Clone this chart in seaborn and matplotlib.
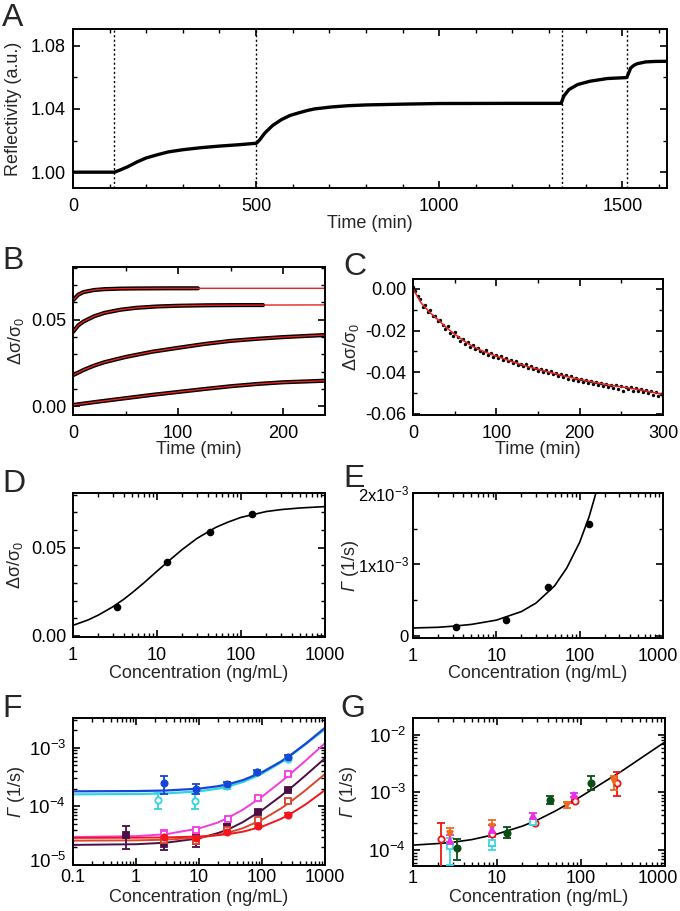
import numpy as np
import pandas as pd
import matplotlib
matplotlib.use("Agg")
import matplotlib.pyplot as plt
import matplotlib.transforms as mtransforms
import seaborn as sns
from matplotlib.ticker import MultipleLocator, LogLocator, FixedLocator, FixedFormatter, NullFormatter, FormatStrFormatter

# ---------------- data ----------------
# A: reflectivity trace
a_time = [0, 113, 130, 150, 175, 200, 230, 260, 300, 350, 400, 450, 501,
          510, 524, 545, 569, 592, 615, 640, 660, 705, 750, 800, 900, 1000, 1200, 1333,
          1340, 1354, 1378, 1412, 1459, 1512,
          1517, 1523, 1532, 1541, 1564, 1590, 1622]
a_refl = [1.000, 1.000, 1.0015, 1.0035, 1.0065, 1.0090, 1.0110, 1.0128, 1.0142, 1.0155, 1.0165, 1.0173, 1.0183,
          1.0205, 1.0248, 1.0295, 1.0332, 1.0358, 1.0374, 1.0390, 1.0400, 1.0412, 1.0420, 1.0425, 1.0430, 1.0434, 1.0435, 1.0435,
          1.0480, 1.0522, 1.0554, 1.0575, 1.0592, 1.0598,
          1.0625, 1.0659, 1.0676, 1.0686, 1.0697, 1.0700, 1.0701]
a_events = [113, 501, 1335, 1513]

# B: four binding curves (data) and their fits
b1_t = [0, 5, 10, 20, 30, 45, 60, 90, 119]
b1_v = [0.0613, 0.0645, 0.0660, 0.0672, 0.0677, 0.0680, 0.0681, 0.0682, 0.0682]
b1_fit_t = [0, 5, 10, 20, 30, 45, 60, 90, 120, 240]
b1_fit_v = [0.0613, 0.0645, 0.0660, 0.0672, 0.0677, 0.0680, 0.0681, 0.0682, 0.0682, 0.0682]
b2_t = [0, 5, 10, 20, 30, 45, 60, 80, 100, 130, 160, 181]
b2_v = [0.0430, 0.0468, 0.0490, 0.0520, 0.0540, 0.0558, 0.0569, 0.0577, 0.0581, 0.0584, 0.0585, 0.0585]
b2_fit_t = [0, 5, 10, 20, 30, 45, 60, 80, 100, 130, 160, 240]
b2_fit_v = [0.0430, 0.0468, 0.0490, 0.0520, 0.0540, 0.0558, 0.0569, 0.0577, 0.0581, 0.0584, 0.0585, 0.0586]
b3_t = [0, 10, 20, 30, 50, 75, 100, 125, 150, 175, 200, 240]
b3_v = [0.0180, 0.0210, 0.0235, 0.0255, 0.0285, 0.0315, 0.0338, 0.0360, 0.0378, 0.0390, 0.0400, 0.0412]
b4_t = [0, 25, 50, 75, 100, 125, 150, 175, 200, 240]
b4_v = [0.0008, 0.0028, 0.0047, 0.0066, 0.0083, 0.0100, 0.0116, 0.0129, 0.0139, 0.0148]

# C: dissociation data (every 3 min) and fit
c_vals = [0.0010, -0.0012, -0.0035, -0.0050, -0.0085, -0.0078, -0.0110, -0.0102, -0.0130, -0.0128,
          -0.0155, -0.0150, -0.0172, -0.0190, -0.0178, -0.0212, -0.0225, -0.0208, -0.0232, -0.0250,
          -0.0238, -0.0262, -0.0255, -0.0280, -0.0270, -0.0290, -0.0284, -0.0298, -0.0305, -0.0292,
          -0.0315, -0.0308, -0.0325, -0.0318, -0.0332, -0.0322, -0.0340, -0.0331, -0.0348, -0.0340,
          -0.0356, -0.0345, -0.0365, -0.0358, -0.0370, -0.0362, -0.0380, -0.0372, -0.0385, -0.0378,
          -0.0392, -0.0383, -0.0398, -0.0390, -0.0405, -0.0395, -0.0410, -0.0402, -0.0418, -0.0408,
          -0.0422, -0.0412, -0.0430, -0.0420, -0.0438, -0.0427, -0.0440, -0.0432, -0.0448, -0.0436,
          -0.0450, -0.0442, -0.0455, -0.0446, -0.0462, -0.0450, -0.0466, -0.0455, -0.0470, -0.0459,
          -0.0475, -0.0463, -0.0478, -0.0468, -0.0490, -0.0472, -0.0482, -0.0470, -0.0488, -0.0476,
          -0.0490, -0.0480, -0.0495, -0.0485, -0.0500, -0.0490, -0.0508, -0.0496, -0.0512, -0.0502,
          -0.0515]
c_fit_t = [0, 10, 20, 30, 40, 50, 60, 70, 80, 90, 100, 110, 120, 130, 140, 150, 160, 170, 180, 190,
           200, 210, 220, 230, 240, 250, 260, 270, 280, 290, 300]
c_fit_v = [0.0, -0.0068, -0.0112, -0.0148, -0.0185, -0.0217, -0.0246, -0.0272, -0.0292, -0.0308,
           -0.0322, -0.0336, -0.0350, -0.0363, -0.0375, -0.0385, -0.0396, -0.0406, -0.0416, -0.0425,
           -0.0434, -0.0442, -0.0450, -0.0457, -0.0464, -0.0470, -0.0476, -0.0482, -0.0490, -0.0498, -0.0506]

# D: equilibrium response vs concentration
d_conc = [3.37, 13.3, 42.7, 134]
d_resp = [0.0166, 0.0420, 0.0589, 0.0689]
d_fit_c = [1, 1.5, 2, 3, 4, 5, 7, 10, 15, 20, 30, 50, 70, 100, 200, 300, 500, 1000]
d_fit_v = [0.0060, 0.0090, 0.0118, 0.0166, 0.0207, 0.0243, 0.0301, 0.0367, 0.0440, 0.0490, 0.0553, 0.0615, 0.0645, 0.0672, 0.0705, 0.0716, 0.0725, 0.0733]

# E: observed rate vs concentration (linear axis)
e_conc = [3.3, 13, 42, 130]
e_rate = [0.13e-3, 0.22e-3, 0.69e-3, 1.56e-3]
e_fit_c = [1, 2, 3, 5, 10, 20, 30, 50, 70, 100, 130, 165]
e_fit_v = [0.11e-3, 0.12e-3, 0.135e-3, 0.16e-3, 0.22e-3, 0.34e-3, 0.46e-3, 0.70e-3, 0.95e-3, 1.31e-3, 1.67e-3, 2.09e-3]

# F: rates of several series with fits
f_fit_c = [0.1, 1, 3, 10, 20, 30, 50, 100, 200, 300, 500, 1000]
f_blue_fit = [1.80e-4, 1.82e-4, 1.86e-4, 2.0e-4, 2.2e-4, 2.4e-4, 2.8e-4, 3.8e-4, 5.8e-4, 7.8e-4, 1.18e-3, 2.18e-3]
f_cyan_fit = [1.60e-4, 1.62e-4, 1.66e-4, 1.8e-4, 2.0e-4, 2.2e-4, 2.6e-4, 3.6e-4, 5.6e-4, 7.6e-4, 1.16e-3, 2.06e-3]
f_mag_fit = [3.0e-5, 3.1e-5, 3.35e-5, 4.2e-5, 5.3e-5, 6.5e-5, 8.8e-5, 1.46e-4, 2.62e-4, 3.78e-4, 6.1e-4, 1.19e-3]
f_pur_fit = [2.2e-5, 2.26e-5, 2.4e-5, 2.84e-5, 3.5e-5, 4.1e-5, 5.4e-5, 8.6e-5, 1.5e-4, 2.14e-4, 3.42e-4, 6.6e-4]
f_brk_fit = [2.6e-5, 2.63e-5, 2.7e-5, 2.93e-5, 3.26e-5, 3.6e-5, 4.25e-5, 5.9e-5, 9.2e-5, 1.25e-4, 1.91e-4, 3.56e-4]
f_red_fit = [2.9e-5, 2.92e-5, 2.95e-5, 3.06e-5, 3.22e-5, 3.38e-5, 3.7e-5, 4.5e-5, 6.1e-5, 7.7e-5, 1.09e-4, 1.89e-4]

f_blue_c = [2.8, 9, 27.5, 82, 255]
f_blue_g = [2.45e-4, 2.0e-4, 2.4e-4, 3.9e-4, 7.0e-4]
f_blue_lo = [1.6e-4, 1.6e-4, 2.2e-4, 3.6e-4, 6.5e-4]
f_blue_hi = [3.3e-4, 2.4e-4, 2.6e-4, 4.1e-4, 7.4e-4]
f_cyan_c = [2.2, 8.7, 27.5, 82, 255]
f_cyan_g = [1.28e-4, 1.23e-4, 2.2e-4, 3.8e-4, 6.5e-4]
f_cyan_lo = [0.9e-4, 0.9e-4, 2.0e-4, 3.6e-4, 6.0e-4]
f_cyan_hi = [1.7e-4, 1.6e-4, 2.4e-4, 4.0e-4, 6.9e-4]
f_mag_c = [2.8, 9, 28.5, 85, 255]
f_mag_g = [3.4e-5, 3.9e-5, 6.2e-5, 1.4e-4, 3.6e-4]
f_mag_lo = [2.9e-5, 3.5e-5, 5.7e-5, 1.3e-4, 3.4e-4]
f_mag_hi = [3.9e-5, 4.3e-5, 6.7e-5, 1.5e-4, 3.8e-4]
f_pur_c = [0.69, 2.8, 9, 27.5, 85, 255]
f_pur_g = [3.2e-5, 2.3e-5, 2.6e-5, 4.5e-5, 8.1e-5, 1.9e-4]
f_pur_lo = [1.9e-5, 1.8e-5, 2.0e-5, 4.0e-5, 7.6e-5, 1.8e-4]
f_pur_hi = [4.6e-5, 2.9e-5, 3.3e-5, 5.0e-5, 8.6e-5, 2.0e-4]
f_brk_c = [2.8, 9, 28, 85, 255]
f_brk_g = [2.7e-5, 2.6e-5, 4.0e-5, 5.8e-5, 1.23e-4]
f_brk_lo = [2.5e-5, 2.4e-5, 3.7e-5, 5.4e-5, 1.15e-4]
f_brk_hi = [2.9e-5, 2.8e-5, 4.3e-5, 6.2e-5, 1.31e-4]
f_red_c = [2.8, 9, 27.5, 85, 255]
f_red_g = [3.0e-5, 2.9e-5, 3.6e-5, 4.6e-5, 7.2e-5]
f_red_lo = [2.8e-5, 2.7e-5, 3.4e-5, 4.3e-5, 6.8e-5]
f_red_hi = [3.2e-5, 3.1e-5, 3.8e-5, 4.9e-5, 7.6e-5]

# G: pooled rates and global fit
g_fit_c = [1, 2, 3, 5, 10, 20, 30, 50, 100, 200, 300, 500, 1000]
g_fit_v = [1.22e-4, 1.30e-4, 1.37e-4, 1.52e-4, 1.9e-4, 2.6e-4, 3.3e-4, 4.8e-4, 8.5e-4, 1.6e-3, 2.3e-3, 3.8e-3, 7.5e-3]
g_red_c = [2.15, 8.65, 28.3, 85.5, 266]
g_red_g = [1.55e-4, 1.87e-4, 2.9e-4, 7.0e-4, 1.48e-3]
g_red_lo = [3e-5, 1.2e-4, 2.7e-4, 6.6e-4, 8.5e-4]
g_red_hi = [3.0e-4, 2.7e-4, 3.1e-4, 7.4e-4, 2.3e-3]
g_ora_c = [2.76, 8.65, 67.6, 247]
g_ora_g = [1.9e-4, 2.55e-4, 6.1e-4, 1.6e-3]
g_ora_lo = [1.4e-4, 1.9e-4, 5.3e-4, 1.1e-3]
g_ora_hi = [2.4e-4, 3.3e-4, 6.8e-4, 1.95e-3]
g_grn_c = [3.3, 13, 42.8, 131.5]
g_grn_g = [1.1e-4, 2.0e-4, 7.4e-4, 1.45e-3]
g_grn_lo = [0.68e-4, 1.6e-4, 6.3e-4, 1.1e-3]
g_grn_hi = [1.55e-4, 2.5e-4, 8.6e-4, 1.9e-3]
g_cya_c = [2.76, 8.65, 27]
g_cya_g = [1.2e-4, 1.35e-4, 3.1e-4]
g_cya_lo = [5.5e-5, 1.0e-4, 2.8e-4]
g_cya_hi = [1.6e-4, 1.8e-4, 3.4e-4]
g_mag_c = [2.76, 8.65, 27, 82.6]
g_mag_g = [1.45e-4, 2.2e-4, 3.9e-4, 9.0e-4]
g_mag_lo = [1.1e-4, 1.7e-4, 3.5e-4, 8.4e-4]
g_mag_hi = [1.8e-4, 2.7e-4, 4.4e-4, 9.6e-4]

# ---------------- style ----------------
sns.set_theme(style="ticks")
plt.rcParams['font.family'] = ['Liberation Sans', 'DejaVu Sans']
plt.rcParams.update({
    'mathtext.fontset': 'custom',
    'mathtext.rm': 'Liberation Sans',
    'mathtext.it': 'Liberation Sans:italic',
    'mathtext.bf': 'Liberation Sans:bold',
    'mathtext.sf': 'Liberation Sans:italic',   # used for the italic Gamma
    'axes.unicode_minus': False,
    'axes.linewidth': 1.4,
    'axes.edgecolor': 'black',
    'xtick.direction': 'in', 'ytick.direction': 'in',
    'xtick.top': True, 'ytick.right': True,
    'xtick.major.size': 5, 'ytick.major.size': 5,
    'xtick.minor.size': 2.6, 'ytick.minor.size': 2.6,
    'xtick.major.width': 1.2, 'ytick.major.width': 1.2,
    'xtick.minor.width': 1.0, 'ytick.minor.width': 1.0,
    'xtick.major.pad': 7, 'ytick.major.pad': 5,
    'xtick.labelsize': 13, 'ytick.labelsize': 13,
    'axes.labelsize': 13,
    'xtick.color': 'black', 'ytick.color': 'black',
})

W, H = 680, 911
fig = plt.figure(figsize=(W / 100, H / 100), dpi=100)

GAMMA = r'$\mathsf{Γ}$ (1/s)'
DSIG = r'$\mathregular{\Delta\sigma/\sigma_0}$'


def box(l, r, t, b):
    return fig.add_axes([l / W, 1 - b / H, (r - l) / W, (b - t) / H])


def letter(s, x, y):
    fig.text(x / W, 1 - y / H, s, fontsize=23, va='baseline', ha='left')


def conc_axis(ax):
    ax.set_xscale('log')
    ax.set_xlim(1, 1000)
    ax.xaxis.set_major_locator(FixedLocator([1, 10, 100, 1000]))
    ax.xaxis.set_major_formatter(FixedFormatter(['1', '10', '100', '1000']))
    ax.xaxis.set_minor_locator(LogLocator(base=10, subs=range(2, 10)))
    ax.xaxis.set_minor_formatter(NullFormatter())
    ax.set_xlabel('Concentration (ng/mL)')


def nudge(lab, dx_px, dy_px):
    # shift a tick label by a few pixels
    lab.set_transform(lab.get_transform() + mtransforms.ScaledTranslation(dx_px / 100, dy_px / 100, fig.dpi_scale_trans))


def line(ax, x, y, color, lw):
    sns.lineplot(x=x, y=y, ax=ax, color=color, lw=lw, estimator=None, sort=False, legend=False)


def ebar(ax, c, g, lo, hi, color, marker, filled=True, ms=4.5):
    g = np.array(g)
    err = [g - np.array(lo), np.array(hi) - g]
    ax.errorbar(c, g, yerr=err, fmt=marker, color=color, ms=ms, mew=1.3,
                mfc=color if filled else 'white', mec=color,
                elinewidth=1.3, capsize=2.8, capthick=1.3, zorder=3)


def place_labels(ax, l, r, t, b, xlab_top, ylab_center):
    # label positions given in picture pixels
    ax.xaxis.set_label_coords(0.5, (b - xlab_top) / (b - t))
    ax.yaxis.set_label_coords((ylab_center + 9 - l) / (r - l), 0.5)


# ---------------- A ----------------
A = (73, 667, 29, 188)
axA = box(*A)
for t in a_events:
    axA.axvline(t, color='black', lw=1.0, ls=(0, (1.5, 1.8)))
line(axA, a_time, a_refl, 'black', 2.4)
axA.set_xlim(0, 1622)
axA.set_ylim(0.990, 1.0905)
axA.xaxis.set_major_locator(MultipleLocator(500))
axA.xaxis.set_minor_locator(MultipleLocator(100))
axA.yaxis.set_major_locator(FixedLocator([1.00, 1.04, 1.08]))
axA.yaxis.set_minor_locator(FixedLocator([1.02, 1.06]))
axA.yaxis.set_major_formatter(FormatStrFormatter('%.2f'))
axA.set_xlabel('Time (min)')
axA.set_ylabel('Reflectivity (a.u.)')
place_labels(axA, *A, 215, 13)

# ---------------- B ----------------
B = (73, 325, 267, 415)
axB = box(*B)
for tt, vv in [(b1_t, b1_v), (b2_t, b2_v), (b3_t, b3_v), (b4_t, b4_v)]:
    line(axB, tt, vv, 'black', 3.0)
for tt, vv in [(b1_fit_t, b1_fit_v), (b2_fit_t, b2_fit_v), (b3_t, b3_v), (b4_t, b4_v)]:
    line(axB, tt, vv, '#e8221c', 1.0)
axB.set_xlim(0, 240)
axB.set_ylim(-0.005, 0.0805)
axB.xaxis.set_major_locator(MultipleLocator(100))
axB.xaxis.set_minor_locator(MultipleLocator(50))
axB.yaxis.set_major_locator(MultipleLocator(0.05))
axB.yaxis.set_minor_locator(MultipleLocator(0.01))
axB.yaxis.set_major_formatter(FormatStrFormatter('%.2f'))
axB.set_xlabel('Time (min)')
axB.set_ylabel(DSIG)
place_labels(axB, *B, 441, 17)

# ---------------- C ----------------
C = (413, 663, 279, 415)
axC = box(*C)
c_time = np.linspace(0, 300, len(c_vals))
sns.scatterplot(x=c_time, y=c_vals, ax=axC, color='black', s=6, linewidth=0, legend=False)
line(axC, c_fit_t, c_fit_v, '#e8221c', 1.1)
axC.set_xlim(0, 300)
axC.set_ylim(-0.0605, 0.0048)
axC.xaxis.set_major_locator(MultipleLocator(100))
axC.xaxis.set_minor_locator(MultipleLocator(50))
axC.yaxis.set_major_locator(MultipleLocator(0.02))
axC.yaxis.set_minor_locator(MultipleLocator(0.01))
axC.yaxis.set_major_formatter(FormatStrFormatter('%.2f'))
axC.set_xlabel('Time (min)')
axC.set_ylabel(DSIG)
place_labels(axC, *C, 441, 352)

# ---------------- D ----------------
D = (73, 325, 493, 637)
axD = box(*D)
line(axD, d_fit_c, d_fit_v, 'black', 1.2)
sns.scatterplot(x=d_conc, y=d_resp, ax=axD, color='black', s=30, linewidth=0, legend=False, zorder=3)
conc_axis(axD)
axD.set_ylim(-0.0006, 0.081)
axD.yaxis.set_major_locator(MultipleLocator(0.05))
axD.yaxis.set_minor_locator(MultipleLocator(0.01))
axD.yaxis.set_major_formatter(FormatStrFormatter('%.2f'))
axD.set_ylabel(DSIG)
place_labels(axD, *D, 665, 16)

# ---------------- E ----------------
E = (413, 663, 493, 638)
axE = box(*E)
line(axE, e_fit_c, e_fit_v, 'black', 1.2)
sns.scatterplot(x=e_conc, y=e_rate, ax=axE, color='black', s=30, linewidth=0, legend=False, zorder=3)
conc_axis(axE)
axE.set_ylim(-0.00003, 0.002)
axE.yaxis.set_major_locator(FixedLocator([0, 1e-3, 2e-3]))
axE.yaxis.set_major_formatter(FixedFormatter(['0', r'$\mathregular{1x10^{-3}}$', r'$\mathregular{2x10^{-3}}$']))
axE.yaxis.set_minor_locator(FixedLocator([0.5e-3, 1.5e-3]))
axE.tick_params(axis='y', labelsize=12, pad=3)
axE.set_ylabel(GAMMA)
place_labels(axE, *E, 665, 352)

# ---------------- F ----------------
F = (73, 325, 718, 865)
axF = box(*F)
line(axF, f_fit_c, f_cyan_fit, '#2fd5e0', 1.6)
line(axF, f_fit_c, f_blue_fit, '#1546d8', 1.6)
line(axF, f_fit_c, f_mag_fit, '#f23ce0', 1.4)
line(axF, f_fit_c, f_pur_fit, '#4a0f45', 1.4)
line(axF, f_fit_c, f_brk_fit, '#d8482c', 1.4)
line(axF, f_fit_c, f_red_fit, '#f4141c', 1.4)
ebar(axF, f_cyan_c, f_cyan_g, f_cyan_lo, f_cyan_hi, '#2fd5e0', 'o', filled=False)
ebar(axF, f_blue_c, f_blue_g, f_blue_lo, f_blue_hi, '#1546d8', 'o')
ebar(axF, f_mag_c, f_mag_g, f_mag_lo, f_mag_hi, '#f23ce0', 's', filled=False)
ebar(axF, f_pur_c, f_pur_g, f_pur_lo, f_pur_hi, '#4a0f45', 's')
ebar(axF, f_brk_c, f_brk_g, f_brk_lo, f_brk_hi, '#d8482c', 's', filled=False)
ebar(axF, f_red_c, f_red_g, f_red_lo, f_red_hi, '#f4141c', 'o')
axF.set_xscale('log')
axF.set_yscale('log')
axF.set_xlim(0.1, 1000)
axF.set_ylim(1e-5, 3.2e-3)
axF.xaxis.set_major_locator(FixedLocator([0.1, 1, 10, 100, 1000]))
axF.xaxis.set_major_formatter(FixedFormatter(['0.1', '1', '10', '100', '1000']))
axF.xaxis.set_minor_locator(LogLocator(base=10, subs=range(2, 10)))
axF.xaxis.set_minor_formatter(NullFormatter())
axF.yaxis.set_major_locator(FixedLocator([1e-5, 1e-4, 1e-3]))
axF.yaxis.set_minor_locator(LogLocator(base=10, subs=range(2, 10)))
axF.yaxis.set_minor_formatter(NullFormatter())
axF.tick_params(axis='y', labelsize=13.5)
axF.tick_params(axis='x', pad=3)
axF.set_xlabel('Concentration (ng/mL)')
axF.set_ylabel(GAMMA)
place_labels(axF, *F, 889, 18)

# ---------------- G ----------------
G = (413, 665, 718, 866)
axG = box(*G)
line(axG, g_fit_c, g_fit_v, 'black', 1.2)
ebar(axG, g_red_c, g_red_g, g_red_lo, g_red_hi, '#f01414', 'o', filled=False)
ebar(axG, g_ora_c, g_ora_g, g_ora_lo, g_ora_hi, '#f06a1e', 'v')
ebar(axG, g_cya_c, g_cya_g, g_cya_lo, g_cya_hi, '#3ad8e4', 's', filled=False)
ebar(axG, g_mag_c, g_mag_g, g_mag_lo, g_mag_hi, '#e82ee8', '^')
ebar(axG, g_grn_c, g_grn_g, g_grn_lo, g_grn_hi, '#0b4d12', 'o')
conc_axis(axG)
axG.set_yscale('log')
axG.set_ylim(5.3e-5, 1.95e-2)
axG.yaxis.set_major_locator(LogLocator(base=10))
axG.yaxis.set_minor_locator(LogLocator(base=10, subs=range(2, 10)))
axG.yaxis.set_minor_formatter(NullFormatter())
axG.tick_params(axis='y', labelsize=13.5)
axG.tick_params(axis='x', pad=3)
axG.set_ylabel(GAMMA)
place_labels(axG, *G, 889, 350)

for ax in [axA, axB, axC, axD, axE, axF, axG]:
    for sp in ax.spines.values():
        sp.set_visible(True)
        sp.set_linewidth(1.4)
    ax.tick_params(which='both', top=True, right=True, direction='in')

nudge(axE.get_xticklabels()[-1], -5, 0)
nudge(axG.get_xticklabels()[-1], -7, 0)
nudge(axF.get_yticklabels()[0], 0, 5)

letter('A', 2, 26)
letter('B', 2, 269)
letter('C', 343, 275)
letter('D', 2, 492)
letter('E', 343, 487)
letter('F', 2, 717)
letter('G', 340, 717)

fig.savefig('out.png', dpi=100)
